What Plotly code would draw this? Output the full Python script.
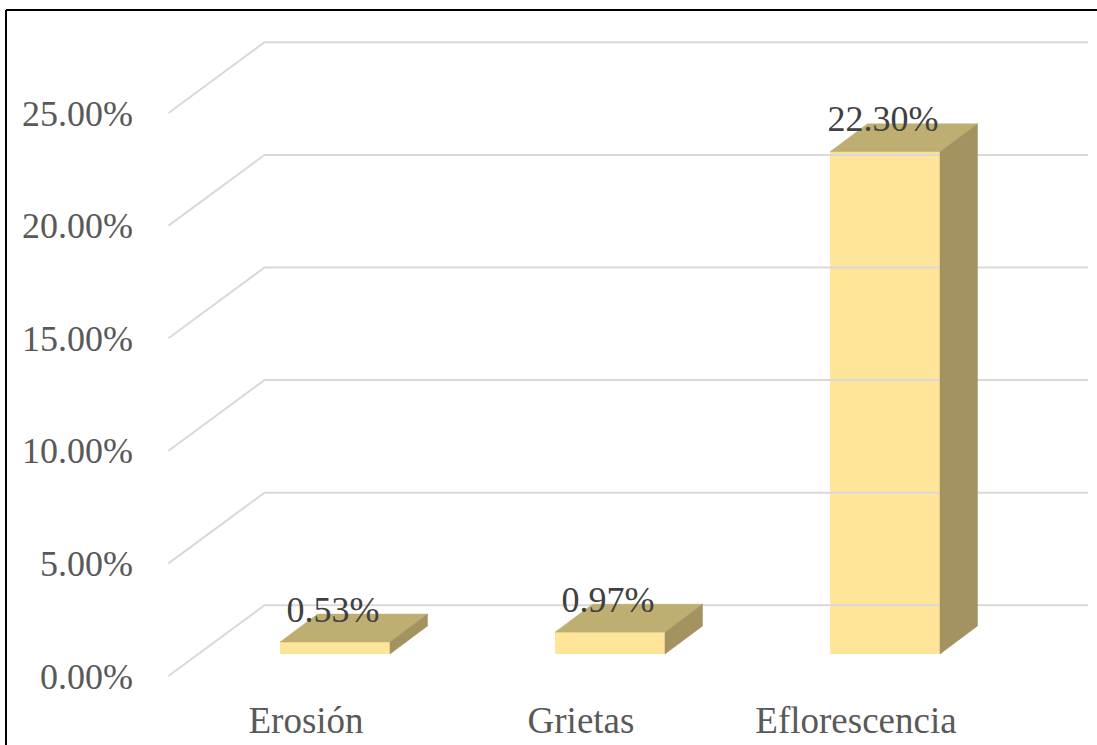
import plotly.graph_objects as go

categories = ["Erosión", "Grietas", "Eflorescencia"]
values = [0.53, 0.97, 22.30]
value_labels = ["0.53%", "0.97%", "22.30%"]
y_ticks = [0, 5, 10, 15, 20, 25]
y_tick_labels = ["0.00%", "5.00%", "10.00%", "15.00%", "20.00%", "25.00%"]

# pixel geometry of the pseudo-3D projection, converted to axis units
W, H = 1097, 745
PX_Y = 112.6 / 5          # pixels per percentage point
PX_X = 275.0              # pixels per category step
L, R, T, B = 140, 0, 0, 50
Y0_PX, X0_PX = 676, 306   # where value 0 and category 0 sit on the front plane

x_range = [(L - X0_PX) / PX_X, (W - R - X0_PX) / PX_X]
y_range = [(Y0_PX - (H - B)) / PX_Y, Y0_PX / PX_Y]

wall_dx, wall_dy = 96 / PX_X, 70.7 / PX_Y       # side wall depth
wall_x0 = (168.5 - X0_PX) / PX_X                # front edge of the side wall
wall_x1 = (1088 - X0_PX) / PX_X                 # right end of the back wall
bar_shift_x, bar_base = 29 / PX_X, 22 / PX_Y    # bar offset from the front plane
bar_w = 110 / PX_X
depth_x, depth_y = 37.5 / PX_X, 28 / PX_Y       # bar depth

FONT = "Liberation Serif"
fig = go.Figure()

for t in y_ticks:
    fig.add_trace(go.Scatter(
        x=[wall_x0, wall_x0 + wall_dx, wall_x1],
        y=[t, t + wall_dy, t + wall_dy],
        mode="lines", line=dict(color="#D9D9D9", width=2),
        hoverinfo="skip", showlegend=False))

for i, v in enumerate(values):
    xl = i + bar_shift_x - bar_w / 2
    xr = xl + bar_w
    y0 = bar_base
    y1 = bar_base + v
    fig.add_trace(go.Scatter(
        x=[xl, xr, xr + depth_x, xl + depth_x, xl],
        y=[y1, y1, y1 + depth_y, y1 + depth_y, y1],
        mode="lines", fill="toself", fillcolor="#BFAE72",
        line=dict(color="#BFAE72", width=0.5),
        hoverinfo="skip", showlegend=False))
    fig.add_trace(go.Scatter(
        x=[xr, xr + depth_x, xr + depth_x, xr, xr],
        y=[y0, y0 + depth_y, y1 + depth_y, y1, y0],
        mode="lines", fill="toself", fillcolor="#A39361",
        line=dict(color="#A39361", width=0.5),
        hoverinfo="skip", showlegend=False))

fig.add_trace(go.Bar(
    x=[i + bar_shift_x for i in range(len(values))],
    y=values, base=bar_base, width=bar_w,
    marker=dict(color="#FFE599", line=dict(width=0)),
    showlegend=False))

fig.add_trace(go.Scatter(
    x=[i + bar_shift_x - 2 / PX_X for i in range(len(values))],
    y=[bar_base + v + 29.5 / PX_Y for v in values],
    mode="text", text=value_labels, textposition="middle center",
    textfont=dict(family=FONT, size=36, color="#404040"),
    hoverinfo="skip", showlegend=False))

plot_w, plot_h = W - L - R, H - T - B
fig.add_shape(type="line", xref="paper", yref="paper",
              x0=(6 - L) / plot_w, x1=(W - L) / plot_w,
              y0=(H - B - 10) / plot_h, y1=(H - B - 10) / plot_h,
              line=dict(color="#000000", width=2))
fig.add_shape(type="line", xref="paper", yref="paper",
              x0=(6 - L) / plot_w, x1=(6 - L) / plot_w,
              y0=-B / plot_h, y1=(H - B - 10) / plot_h,
              line=dict(color="#000000", width=2))

fig.update_layout(
    width=W, height=H, autosize=False,
    margin=dict(l=L, r=R, t=T, b=B, pad=0),
    plot_bgcolor="white", paper_bgcolor="white",
    showlegend=False, barmode="overlay",
    xaxis=dict(range=x_range, tickmode="array", tickvals=list(range(len(categories))),
               ticktext=categories, showgrid=False, zeroline=False, showline=False,
               ticks="", ticklabelstandoff=0,
               tickfont=dict(family=FONT, size=37, color="#595959")),
    yaxis=dict(range=y_range, tickmode="array", tickvals=y_ticks, ticktext=y_tick_labels,
               showgrid=False, zeroline=False, showline=False, ticks="",
               ticklabelstandoff=6,
               tickfont=dict(family=FONT, size=36, color="#595959")),
)
fig.write_html("out.html", config={"displayModeBar": False},
               post_script="document.body.style.margin='0';document.documentElement.style.overflow='hidden';")
